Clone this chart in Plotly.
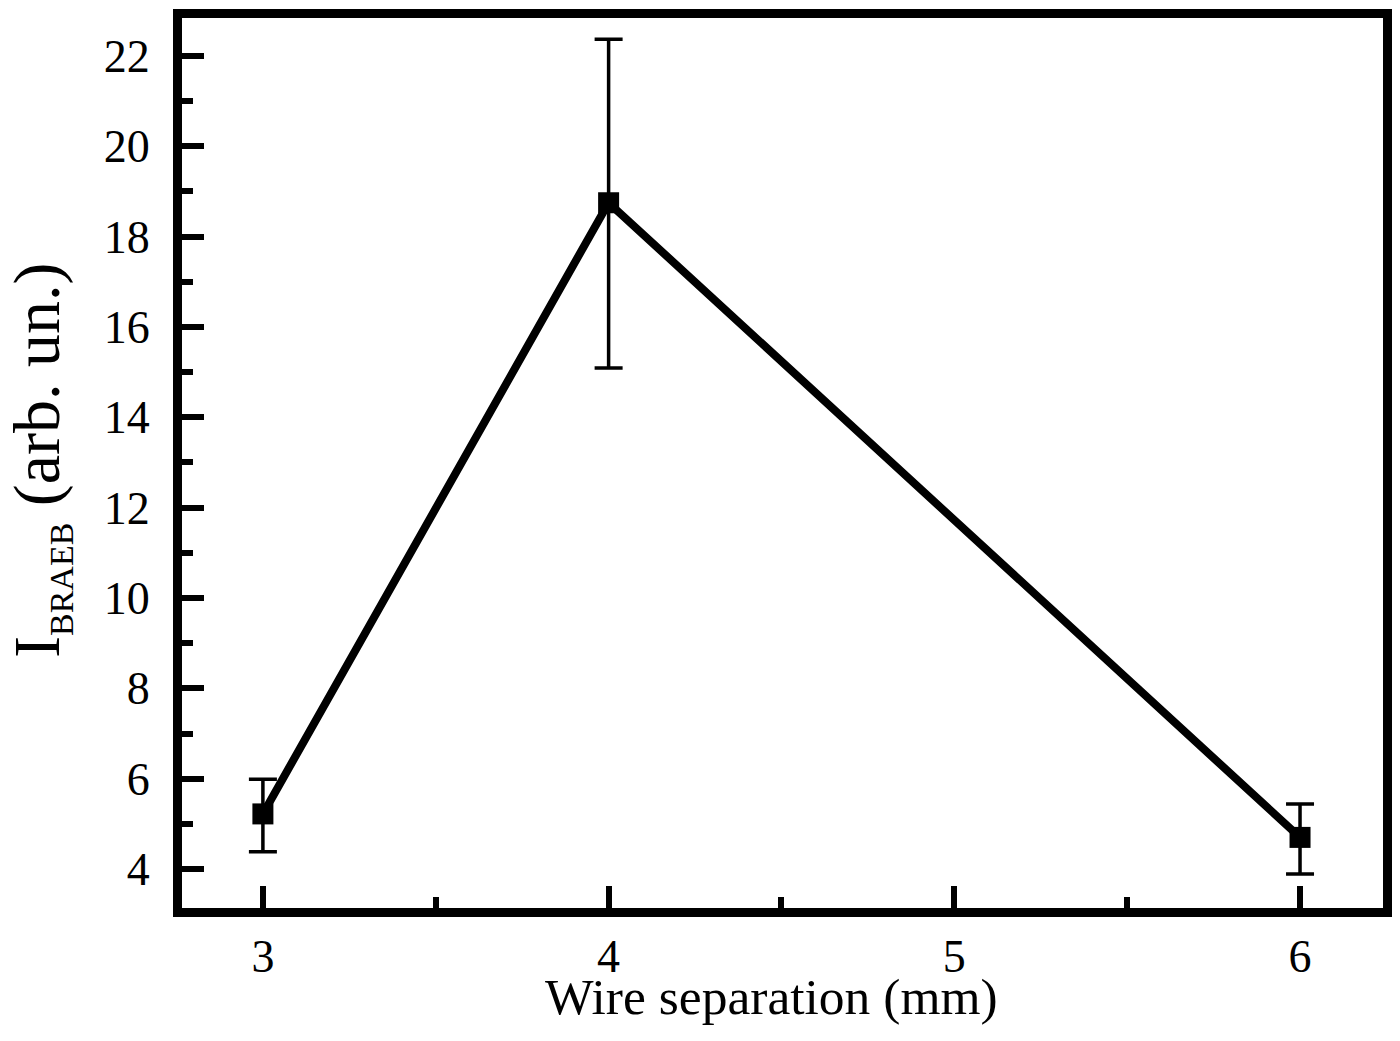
import plotly.graph_objects as go

# ---------------------------------------------------------------------------
# Data
# ---------------------------------------------------------------------------

wire_sep = [3, 4, 6]                 # mm
intensity = [5.22, 18.75, 4.70]      # arb. un.
err_plus = [0.77, 3.62, 0.74]
err_minus = [0.84, 3.66, 0.81]

FONT = "Liberation Serif, Times New Roman, serif"

fig = go.Figure()

# ── Data line + markers with error bars ────────────────────────────────────
fig.add_trace(go.Scatter(
    x=wire_sep,
    y=intensity,
    mode="lines+markers",
    line=dict(color="black", width=8),
    marker=dict(symbol="square", size=21, color="black"),
    error_y=dict(
        type="data",
        symmetric=False,
        array=err_plus,
        arrayminus=err_minus,
        color="black",
        thickness=3.5,
        width=14,
    ),
    showlegend=False,
))

axis_common = dict(
    automargin=False,
    showgrid=False,
    zeroline=False,
    showline=True,
    linecolor="black",
    linewidth=9,
    mirror=True,
    ticks="inside",
    tickcolor="black",
    tickwidth=6,
    ticklen=22,
    tickfont=dict(family=FONT, size=46, color="black"),
)

fig.update_xaxes(
    **axis_common,
    range=[2.766, 6.24],
    tickvals=[3, 4, 5, 6],
    minor=dict(ticks="inside", dtick=0.5, tick0=3, ticklen=11,
               tickwidth=6, tickcolor="black"),
)

fig.update_yaxes(
    **axis_common,
    range=[3.137, 22.84],
    tickvals=[4, 6, 8, 10, 12, 14, 16, 18, 20, 22],
    ticklabelstandoff=14,
    minor=dict(ticks="inside", dtick=1, tick0=3, ticklen=11,
               tickwidth=6, tickcolor="black"),
)

# axis titles as annotations so they sit exactly where the original has them
fig.add_annotation(
    text="Wire separation (mm)",
    xref="paper", yref="paper",
    x=0.5, y=0,
    xanchor="center", yanchor="top",
    xshift=-11, yshift=-58,
    showarrow=False,
    font=dict(family=FONT, size=51.5, color="black"),
)
fig.add_annotation(
    text="I<sub><span style='font-size:34px'>BRAEB</span></sub> (arb. un.)",
    xref="paper", yref="paper",
    x=0, y=0.5,
    xanchor="right", yanchor="middle",
    xshift=-100, yshift=3,
    textangle=-90,
    showarrow=False,
    font=dict(family=FONT, size=66, color="black"),
)

fig.update_layout(
    width=1384,
    height=1025,
    margin=dict(l=174, r=9, t=10, b=125),
    plot_bgcolor="white",
    paper_bgcolor="white",
)

fig.write_html("out.html")
